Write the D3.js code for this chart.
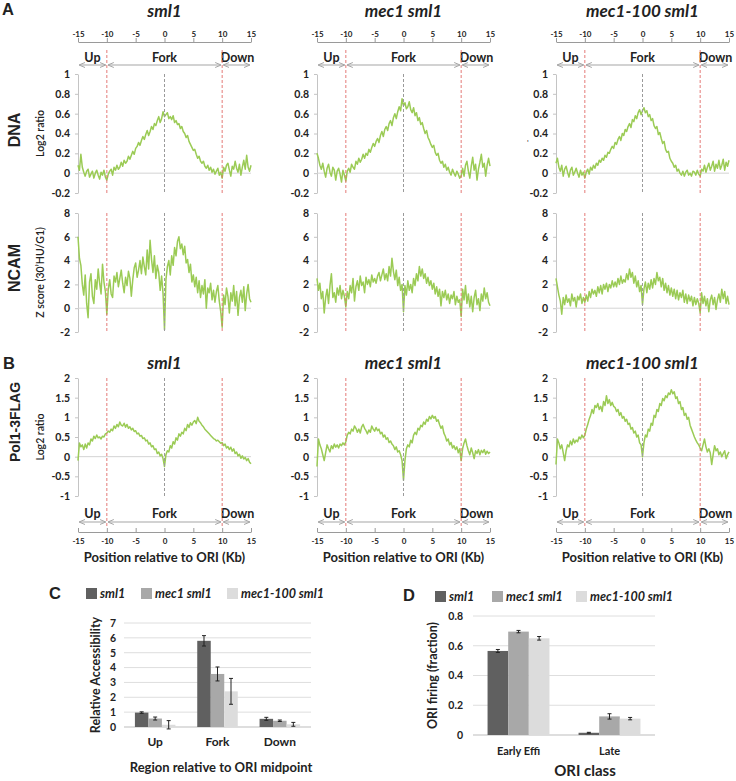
<!DOCTYPE html>
<html><head><meta charset="utf-8">
<script src="https://cdn.jsdelivr.net/npm/d3@7"></script>
<style>
body{margin:0;background:#fff}
text{font-family:Lato,"Open Sans",sans-serif;fill:#222}
</style></head>
<body><svg id="c" width="736" height="781"></svg>
<script>
// ---------- DATA ----------
const strains = ["sml1", "mec1 sml1", "mec1-100 sml1"];
const xTicks = [-15, -10, -5, 0, 5, 10, 15];
const dnaTicks = [-0.2, 0, 0.2, 0.4, 0.6, 0.8, 1];
const ncamTicks = [-2, 0, 2, 4, 6, 8];
const polTicks = [-1, -0.5, 0, 0.5, 1, 1.5, 2];
const regions = ["Up", "Fork", "Down"];
const regionStart = [-15, -10, 10];
const regionEnd = [-10, 10, 15];

// profiles sampled every 0.25 Kb from -15 to 15
const dnaSml1 = [0.08,0.03,0.19,0.06,0.01,-0.03,0.02,0.04,-0.04,-0.01,0.02,-0.05,0.00,0.03,-0.02,-0.06,0.01,-0.02,0.03,-0.04,-0.07,
-0.01,0.02,0.04,-0.02,0.06,0.03,0.08,0.04,0.06,0.11,0.07,0.13,0.10,0.12,0.17,0.14,0.18,0.22,0.19,0.25,
0.27,0.31,0.28,0.33,0.37,0.34,0.39,0.43,0.38,0.42,0.47,0.44,0.50,0.48,0.53,0.57,0.51,0.55,0.62,0.57,
0.59,0.61,0.55,0.57,0.54,0.58,0.51,0.53,0.49,0.50,0.45,0.47,0.42,0.40,0.36,0.38,0.32,0.29,0.26,0.23,
0.24,0.19,0.15,0.17,0.12,0.10,0.12,0.07,0.05,0.08,0.03,0.06,0.01,0.04,-0.01,0.02,0.05,-0.02,0.01,-0.05,
0.06,0.02,0.08,0.10,0.03,-0.03,0.07,0.04,0.12,0.05,0.01,0.09,-0.02,0.06,0.13,0.04,0.18,0.06,0.02,0.08];
const dnaMec1 = [0.20,0.15,0.08,0.04,0.10,0.02,-0.04,0.05,0.09,0.01,-0.03,0.06,0.03,-0.07,0.02,0.05,-0.01,-0.09,0.03,-0.02,-0.08,
0.02,0.05,0.01,0.09,0.06,0.04,0.12,0.09,0.15,0.11,0.14,0.19,0.15,0.20,0.18,0.24,0.21,0.26,0.30,0.27,
0.32,0.35,0.31,0.38,0.42,0.37,0.44,0.47,0.43,0.50,0.53,0.48,0.56,0.60,0.55,0.62,0.67,0.63,0.75,0.68,
0.71,0.65,0.67,0.72,0.64,0.61,0.66,0.58,0.61,0.53,0.56,0.49,0.51,0.45,0.40,0.43,0.36,0.33,0.29,0.26,
0.28,0.21,0.18,0.20,0.13,0.10,0.12,0.06,0.09,0.03,0.06,0.01,-0.02,0.04,0.00,-0.03,0.02,-0.01,-0.05,-0.03,
0.05,-0.03,0.08,0.12,0.02,-0.05,0.07,0.16,0.03,0.09,-0.07,0.04,0.11,0.19,0.06,0.10,-0.03,0.08,0.15,0.07];
const dna100 = [0.10,0.15,0.06,0.02,0.08,-0.03,0.04,0.07,0.01,-0.04,0.03,0.06,-0.02,0.01,0.05,0.00,-0.04,0.03,-0.02,0.01,-0.05,
0.01,0.04,-0.01,0.06,0.03,0.08,0.05,0.10,0.08,0.13,0.11,0.15,0.13,0.18,0.16,0.21,0.20,0.24,0.27,0.25,
0.31,0.29,0.34,0.37,0.33,0.40,0.38,0.44,0.42,0.47,0.50,0.46,0.54,0.52,0.58,0.55,0.61,0.64,0.59,0.63,
0.66,0.61,0.63,0.57,0.59,0.53,0.55,0.48,0.45,0.47,0.39,0.41,0.35,0.30,0.32,0.24,0.21,0.22,0.15,0.12,
0.10,0.06,0.08,0.02,0.04,0.00,-0.02,0.02,-0.03,0.01,0.03,-0.02,0.00,-0.03,0.02,0.01,-0.02,0.03,-0.01,-0.03,
0.04,0.02,0.08,0.01,0.06,0.10,0.03,0.07,0.12,0.02,0.09,0.05,0.13,0.04,0.08,0.14,0.03,0.11,0.07,0.13];

const ncamSml1 = [6.0,4.2,3.6,2.0,1.1,2.8,0.4,-0.8,2.2,2.9,1.0,0.4,2.4,1.6,3.3,2.1,1.2,3.7,2.2,1.4,-0.5,
1.6,2.4,1.2,0.9,2.7,2.2,3.0,1.8,2.5,3.2,2.1,1.3,2.6,1.9,3.1,2.5,1.0,2.4,3.4,3.8,
2.6,3.2,4.0,2.9,4.3,3.5,2.8,4.9,3.3,5.7,4.1,3.0,4.4,2.5,3.6,3.0,1.5,2.7,1.2,-1.8,
2.4,3.5,4.0,2.8,4.4,3.6,5.1,4.4,5.6,6.0,5.0,5.4,4.5,5.2,3.8,4.1,3.0,3.7,2.2,2.8,
1.8,2.6,1.3,2.3,0.9,1.9,1.2,2.4,0.0,1.7,1.3,2.1,0.7,1.5,0.5,1.4,1.9,0.6,-0.3,-1.6,
1.1,0.3,1.7,1.0,-0.4,1.3,0.6,1.9,0.2,1.4,-0.6,0.9,1.5,0.5,1.8,-0.2,1.2,2.0,0.8,0.5];
const ncamMec1 = [2.5,1.5,2.1,0.8,1.4,-0.4,0.9,1.6,0.4,1.9,2.9,0.9,1.3,0.5,1.7,1.1,1.9,0.8,1.5,1.0,0.1,
1.4,0.8,1.9,1.3,2.5,0.6,1.8,2.3,1.5,2.7,1.9,2.2,1.3,2.6,2.0,2.4,1.8,2.8,2.2,2.5,
2.1,2.7,3.0,2.3,2.8,3.3,2.4,2.9,2.3,3.5,2.7,4.2,3.1,2.4,3.2,1.9,2.6,1.5,2.0,-0.3,
1.9,1.1,2.3,1.5,2.0,1.3,2.5,1.9,2.9,2.3,3.5,2.7,3.3,2.5,2.9,2.1,2.6,1.9,2.3,1.6,
2.1,1.2,1.8,1.0,1.6,0.2,1.4,0.9,1.5,0.7,1.2,0.4,1.1,0.8,1.4,0.3,1.0,0.5,0.7,-0.7,
1.6,0.7,1.9,0.4,1.2,0.1,1.0,-0.3,0.9,1.5,0.3,0.8,-0.2,1.2,0.6,1.7,0.8,1.3,0.5,0.2];
const ncam100 = [2.5,1.8,1.1,0.6,-0.5,0.9,0.3,1.1,0.5,0.8,0.2,1.2,0.6,0.9,0.1,1.0,0.7,1.2,0.4,0.9,0.5,
1.1,0.6,1.4,0.9,1.6,1.2,1.5,1.0,1.8,1.3,1.9,1.2,2.0,1.6,2.1,1.4,2.0,1.7,2.3,1.8,
2.2,1.8,2.5,2.0,2.7,2.1,2.4,2.2,2.9,2.4,3.3,2.6,3.0,2.1,2.7,1.8,2.3,1.4,1.9,0.3,
1.6,2.2,1.3,2.1,1.6,2.4,1.7,2.5,2.0,3.0,2.3,2.6,1.8,2.5,1.5,2.1,1.3,1.9,1.1,1.7,
1.0,1.6,0.8,1.5,0.7,1.3,0.9,1.5,0.5,1.2,0.4,1.1,0.6,1.0,0.2,0.9,0.3,0.8,0.4,-0.4,
1.3,0.4,1.0,0.2,0.8,-0.3,0.7,1.1,0.3,0.9,-0.1,0.7,1.2,0.5,1.6,0.8,1.4,0.4,1.0,0.3];

const polSml1 = [-0.10,0.35,0.25,0.30,0.18,0.32,0.22,0.35,0.30,0.45,0.40,0.52,0.46,0.55,0.48,0.50,0.45,0.52,0.50,0.58,0.60,
0.65,0.62,0.70,0.66,0.78,0.72,0.82,0.76,0.88,0.80,0.78,0.85,0.75,0.82,0.72,0.76,0.68,0.72,0.64,0.66,
0.58,0.60,0.52,0.54,0.46,0.48,0.40,0.42,0.32,0.35,0.25,0.28,0.18,0.20,0.08,0.12,0.02,0.06,-0.05,-0.25,
0.05,0.15,0.12,0.28,0.22,0.38,0.32,0.48,0.42,0.58,0.52,0.62,0.58,0.72,0.66,0.82,0.74,0.86,0.80,0.88,
0.92,0.84,1.00,0.90,0.86,0.80,0.76,0.70,0.66,0.62,0.58,0.54,0.50,0.46,0.44,0.40,0.42,0.38,0.34,0.36,
0.28,0.32,0.22,0.26,0.18,0.24,0.14,0.20,0.08,0.12,0.02,0.06,-0.04,0.02,-0.06,-0.02,-0.10,-0.05,-0.14,-0.18];
const polMec1 = [-0.25,0.45,0.30,0.20,0.05,-0.10,0.10,0.30,0.20,0.12,0.28,0.20,0.32,0.24,0.30,0.22,0.32,0.28,0.35,0.30,0.38,
0.55,0.62,0.58,0.70,0.65,0.78,0.72,0.62,0.70,0.60,0.76,0.82,0.72,0.66,0.58,0.68,0.62,0.78,0.70,0.65,
0.74,0.66,0.70,0.58,0.62,0.50,0.55,0.44,0.48,0.36,0.40,0.32,0.28,0.18,0.25,0.12,0.15,0.05,-0.10,-0.60,
-0.10,0.20,0.30,0.25,0.42,0.35,0.55,0.62,0.56,0.72,0.68,0.80,0.76,0.88,0.82,0.95,0.90,1.02,0.96,1.05,
0.98,1.02,0.90,0.94,0.82,0.72,0.78,0.60,0.52,0.40,0.45,0.30,0.36,0.22,0.28,0.18,0.25,0.10,0.20,-0.10,
0.20,0.35,0.45,0.28,0.15,0.05,0.22,0.10,-0.05,0.15,0.08,0.18,0.05,0.16,0.10,0.18,0.06,0.14,0.08,0.12];
const pol100 = [-0.20,0.45,0.35,0.20,0.30,0.10,-0.10,0.15,0.30,0.25,0.40,0.30,0.45,0.35,0.42,0.38,0.50,0.45,0.55,0.48,0.55,
0.70,0.82,0.95,1.05,1.20,1.10,1.30,1.25,1.35,1.20,1.28,1.15,1.40,1.30,1.55,1.35,1.45,1.30,1.38,1.28,
1.25,1.15,1.20,1.05,1.12,0.98,1.02,0.90,0.95,0.82,0.85,0.70,0.74,0.60,0.65,0.50,0.55,0.35,0.30,0.00,
0.35,0.55,0.50,0.70,0.65,0.85,0.80,1.05,1.00,1.20,1.15,1.35,1.30,1.48,1.42,1.55,1.50,1.62,1.58,1.70,
1.60,1.65,1.48,1.52,1.35,1.40,1.20,1.25,1.05,1.10,0.95,1.00,0.80,0.70,0.60,0.50,0.42,0.35,0.30,0.22,
0.15,0.30,0.45,0.25,0.12,0.20,0.10,-0.20,0.05,0.28,0.15,0.20,0.05,0.12,0.00,0.08,0.15,-0.05,0.05,0.12];

// Panel C
const accTicks = [0, 1, 2, 3, 4, 5, 6, 7];
const accSml1 = [0.97, 5.80, 0.55];
const accMec1 = [0.57, 3.57, 0.42];
const acc100 = [0.15, 2.40, 0.18];
const accErrSml1 = [0.05, 0.35, 0.10];
const accErrMec1 = [0.10, 0.47, 0.05];
const accErr100 = [0.28, 0.87, 0.13];

// Panel D
const oriClasses = ["Early Effi", "Late"];
const fireTicks = [0, 0.2, 0.4, 0.6, 0.8];
const fireSml1 = [0.565, 0.015];
const fireMec1 = [0.695, 0.125];
const fire100 = [0.650, 0.110];
const fireErrSml1 = [0.010, 0.003];
const fireErrMec1 = [0.008, 0.018];
const fireErr100 = [0.012, 0.008];

// ---------- DRAW ----------
const svg = d3.select("#c");
const green = "#9bcb55", red = "#e36d6a", dgray = "#9a9a9a", axisGray = "#c4c4c4";
const barColors = ["#606060", "#a8a8a8", "#dcdcdc"];
const colX = [78, 317, 556], W = 173;

const defs = svg.append("defs");
["s", "e"].forEach(k => {
  defs.append("marker").attr("id", "ar" + k).attr("viewBox", "0 0 6 6")
    .attr("refX", k === "e" ? 5.5 : 0.5).attr("refY", 3).attr("markerWidth", 6).attr("markerHeight", 6)
    .attr("orient", "auto")
    .append("path").attr("d", k === "e" ? "M0,0.5L6,3L0,5.5" : "M6,0.5L0,3L6,5.5")
    .attr("fill", "none").attr("stroke", "#a5a5a5").attr("stroke-width", 1);
});

const rows = [
  {series: [dnaSml1, dnaMec1, dna100], domain: [-0.2, 1], range: [193, 74], ticks: dnaTicks,
   title: "Log2 ratio", rowLabel: "DNA", labelY: 130, redTop: 50, redBot: 193},
  {series: [ncamSml1, ncamMec1, ncam100], domain: [-2, 8], range: [332, 213], ticks: ncamTicks,
   title: "Z score (30’HU/G1)", rowLabel: "NCAM", labelY: 268, redTop: 213, redBot: 332},
  {series: [polSml1, polMec1, pol100], domain: [-1, 2], range: [496, 378], ticks: polTicks,
   title: "Log2 ratio", rowLabel: "Pol1-3FLAG", labelY: 422, redTop: 378, redBot: 528}
];

function arrows(g, x, yText, yArrow) {
  regions.forEach((r, i) => {
    const a = x(regionStart[i]) + 1.5, b = x(regionEnd[i]) - 1.5;
    g.append("line").attr("x1", a).attr("x2", b).attr("y1", yArrow).attr("y2", yArrow)
      .attr("stroke", "#a5a5a5").attr("stroke-width", 1)
      .attr("marker-start", "url(#ars)").attr("marker-end", "url(#are)");
    g.append("text").attr("x", (x(regionStart[i]) + x(regionEnd[i])) / 2 + (i === 2 ? 1 : 0)).attr("y", yText)
      .attr("text-anchor", "middle").attr("font-size", 12.5).attr("font-weight", 700).text(r);
  });
}

colX.forEach((cx, c) => {
  const x = d3.scaleLinear().domain([-15, 15]).range([cx, cx + W]);
  const g = svg.append("g");

  // top axis (panel A)
  const top = g.append("g").attr("transform", "translate(0,42)")
    .call(d3.axisTop(x).tickValues(xTicks).tickSize(4).tickSizeOuter(0).tickPadding(1).tickFormat(String));
  top.selectAll("path,line").attr("stroke", "#9a9a9a");
  top.selectAll("text").attr("font-size", 8).attr("font-weight", 700).attr("fill", "#333").style("font-family", "Lato");
  arrows(g, x, 62, 65);

  // bottom axis (panel B)
  const bot = g.append("g").attr("transform", "translate(0,532)")
    .call(d3.axisBottom(x).tickValues(xTicks).tickSize(-4).tickSizeOuter(0).tickPadding(6).tickFormat(String));
  bot.selectAll("path,line").attr("stroke", "#9a9a9a");
  bot.selectAll("text").attr("font-size", 8).attr("font-weight", 700).attr("fill", "#333").style("font-family", "Lato");
  arrows(g, x, 518, 522);
  g.append("text").attr("x", cx + W / 2).attr("y", 562).attr("text-anchor", "middle")
    .attr("font-size", 13).attr("font-weight", 700).text("Position relative to ORI (Kb)");

  // titles
  g.append("text").attr("x", cx + W / 2).attr("y", 17).attr("text-anchor", "middle")
    .attr("font-size", 17).attr("font-weight", 700).attr("font-style", "italic").text(strains[c]);
  g.append("text").attr("x", cx + W / 2).attr("y", 369).attr("text-anchor", "middle")
    .attr("font-size", 17).attr("font-weight", 700).attr("font-style", "italic").text(strains[c]);

  rows.forEach(row => {
    const y = d3.scaleLinear().domain(row.domain).range(row.range);
    const ax = g.append("g").attr("transform", `translate(${cx},0)`)
      .call(d3.axisLeft(y).tickValues(row.ticks).tickSize(3).tickSizeOuter(0).tickPadding(5).tickFormat(String));
    ax.selectAll("path,line").attr("stroke", axisGray);
    ax.selectAll("text").attr("font-size", 10.5).attr("font-weight", 700).attr("fill", "#222").style("font-family", "Lato");
    g.append("line").attr("x1", x(-15)).attr("x2", x(15)).attr("y1", y(0)).attr("y2", y(0))
      .attr("stroke", "#d4d4d4").attr("stroke-width", 1);

    const data = row.series[c];
    const n = data.length;
    const line = d3.line().x((d, i) => x(-15 + 30 * i / (n - 1))).y(d => y(d));
    g.append("path").datum(data).attr("d", line).attr("fill", "none")
      .attr("stroke", green).attr("stroke-width", 1.5).attr("stroke-linejoin", "round");

    [-10, 10].forEach(v => g.append("line").attr("x1", x(v)).attr("x2", x(v))
      .attr("y1", row.redTop).attr("y2", row.redBot).attr("stroke", red).attr("stroke-width", 1)
      .attr("stroke-dasharray", "3,2").attr("opacity", 0.9));
    g.append("line").attr("x1", x(0)).attr("x2", x(0)).attr("y1", row.range[1]).attr("y2", row.range[0])
      .attr("stroke", dgray).attr("stroke-width", 1).attr("stroke-dasharray", "3,2");

    if (c === 0) {
      svg.append("text").attr("transform", `translate(44,${(row.range[0] + row.range[1]) / 2}) rotate(-90)`)
        .attr("text-anchor", "middle").attr("font-size", 10.5).attr("font-weight", 600).text(row.title);
      svg.append("text").attr("transform", `translate(20,${row.labelY}) rotate(-90)`)
        .attr("text-anchor", "middle").attr("font-size", row.rowLabel.length > 5 ? 14 : 16)
        .attr("font-weight", 700).style("font-family", "Liberation Sans, Arial").text(row.rowLabel);
    }
  });
});
svg.append("text").attr("x", 527).attr("y", 146).attr("font-size", 8).attr("fill", "#777").text("'");

// panel letters
[["A", 2, 15], ["B", 3, 369], ["C", 49, 599], ["D", 403, 601]].forEach(([t, x, y]) =>
  svg.append("text").attr("x", x).attr("y", y).attr("font-size", 16.5).attr("font-weight", 700)
    .style("font-family", "Liberation Sans, Arial").attr("fill", "#111").text(t));

// ---------- bar panels ----------
function barPanel(cfg) {
  const g = svg.append("g");
  const y = d3.scaleLinear().domain(cfg.domain).range(cfg.yRange);
  const x0 = d3.scaleBand().domain(cfg.cats).range(cfg.xRange).paddingInner(cfg.pad).paddingOuter(cfg.pad / 2);
  const x1 = d3.scaleBand().domain(strains).range([0, x0.bandwidth()]);
  cfg.ticks.forEach(t => g.append("line").attr("x1", cfg.xRange[0]).attr("x2", cfg.xRange[1])
    .attr("y1", y(t)).attr("y2", y(t)).attr("stroke", t === 0 ? "#bdbdbd" : "#dedede").attr("stroke-width", 1));
  const ax = g.append("g").attr("transform", `translate(${cfg.xRange[0]},0)`)
    .call(d3.axisLeft(y).tickValues(cfg.ticks).tickSize(0).tickPadding(cfg.tickPad).tickFormat(String));
  ax.select(".domain").remove();
  ax.selectAll("text").attr("font-size", 10.5).attr("font-weight", 700).attr("fill", "#222").style("font-family", "Lato");
  cfg.values.forEach((vals, s) => {
    vals.forEach((v, i) => {
      const bx = x0(cfg.cats[i]) + x1(strains[s]);
      g.append("rect").attr("x", bx).attr("y", y(v)).attr("width", x1.bandwidth()).attr("height", y(0) - y(v))
        .attr("fill", barColors[s]);
      const e = cfg.errs[s][i], mx = bx + x1.bandwidth() / 2;
      g.append("line").attr("x1", mx).attr("x2", mx).attr("y1", y(v + e)).attr("y2", y(v - e))
        .attr("stroke", "#222").attr("stroke-width", 1);
      [v + e, v - e].forEach(yy => g.append("line").attr("x1", mx - 2).attr("x2", mx + 2)
        .attr("y1", y(yy)).attr("y2", y(yy)).attr("stroke", "#222").attr("stroke-width", 1));
    });
  });
  cfg.cats.forEach(cat => g.append("text").attr("x", x0(cat) + x0.bandwidth() / 2).attr("y", cfg.catY)
    .attr("text-anchor", "middle").attr("font-size", cfg.catSize).attr("font-weight", 700).text(cat));
  g.append("text").attr("x", cfg.titleX).attr("y", cfg.titleY).attr("text-anchor", "middle")
    .attr("font-size", cfg.titleSize).attr("font-weight", 700).text(cfg.xTitle);
  g.append("text").attr("transform", `translate(${cfg.yTitleX},${(cfg.yRange[0] + cfg.yRange[1]) / 2}) rotate(-90)`)
    .attr("text-anchor", "middle").attr("font-size", 12.5).attr("font-weight", 700).text(cfg.yTitle);
  // legend
  strains.forEach((s, k) => {
    g.append("rect").attr("x", cfg.legX[k]).attr("y", cfg.legY - 10).attr("width", 11).attr("height", 11).attr("fill", barColors[k]);
    g.append("text").attr("x", cfg.legX[k] + 14).attr("y", cfg.legY).attr("font-size", 12.5)
      .attr("font-weight", 700).attr("font-style", "italic").text(s);
  });
}

barPanel({cats: regions, domain: [0, 7], yRange: [727, 623], xRange: [124, 311], pad: 0.35,
  ticks: accTicks, tickPad: 8, values: [accSml1, accMec1, acc100], errs: [accErrSml1, accErrMec1, accErr100],
  catY: 746, catSize: 12, xTitle: "Region relative to ORI midpoint", titleX: 221, titleY: 772, titleSize: 13,
  yTitle: "Relative Accessibility", yTitleX: 100, legX: [86, 141, 227], legY: 598});

barPanel({cats: oriClasses, domain: [0, 0.8], yRange: [735, 616], xRange: [473, 655], pad: 0.32,
  ticks: fireTicks, tickPad: 10, values: [fireSml1, fireMec1, fire100], errs: [fireErrSml1, fireErrMec1, fireErr100],
  catY: 755, catSize: 11, xTitle: "ORI class", titleX: 585, titleY: 776, titleSize: 15,
  yTitle: "ORI firing (fraction)", yTitleX: 437, legX: [435, 492, 576], legY: 601});
</script>
</body></html>
